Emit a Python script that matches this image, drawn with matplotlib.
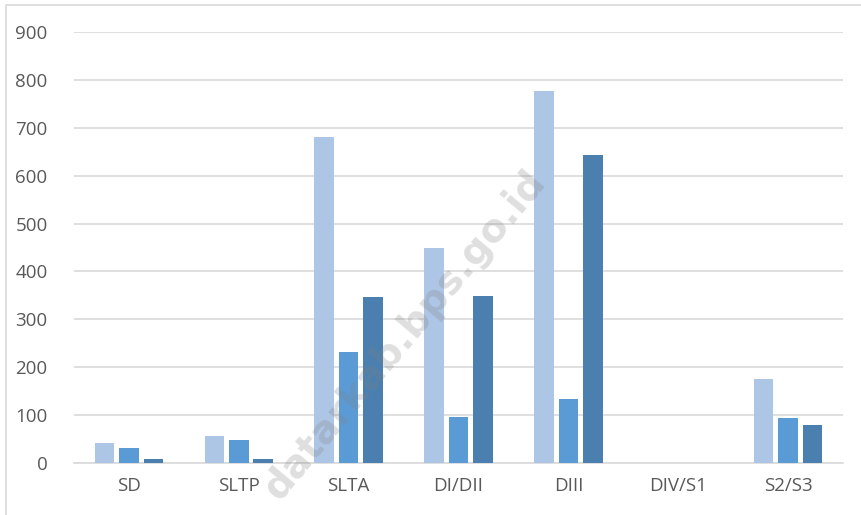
import matplotlib
matplotlib.use('Agg')
import matplotlib.pyplot as plt
import numpy as np
from matplotlib.patches import Rectangle

categories = ['SD', 'SLTP', 'SLTA', 'DI/DII', 'DIII', 'DIV/S1', 'S2/S3']
series_a = [41, 57, 680, 448, 777, 0, 175]
series_b = [31, 48, 231, 97, 134, 0, 95]
series_c = [9, 8, 347, 349, 643, 0, 79]
yticks = [0, 100, 200, 300, 400, 500, 600, 700, 800, 900]

colors = ['#aec6e6', '#5b9bd5', '#4a7fb0']

plt.rcParams['font.family'] = ['Open Sans', 'DejaVu Sans']

fig = plt.figure(figsize=(8.61, 5.15), dpi=100)
ax = fig.add_axes([74/861, 1-463/515, (843-74)/861, (463-32)/515])

x = np.arange(len(categories))
w = 0.178
step = 0.222
for i, (vals, c) in enumerate(zip([series_a, series_b, series_c], colors)):
    ax.bar(x + (i-1)*step, vals, width=w, color=c, zorder=3)

ax.set_xlim(-0.5, len(categories)-0.5)
ax.set_ylim(0, 900)
ax.set_yticks(yticks)
ax.set_xticks(x)
ax.set_xticklabels(categories)
ax.yaxis.grid(True, color='#d9d9d9', linewidth=1.2, zorder=0)
for s in ['top', 'right', 'left']:
    ax.spines[s].set_visible(False)
ax.spines['bottom'].set_color('#d9d9d9')
ax.spines['bottom'].set_linewidth(1.2)
ax.tick_params(axis='both', length=0, labelsize=13.5, colors='#595959')
ax.tick_params(axis='y', pad=19)
ax.tick_params(axis='x', pad=10)

# watermark
fig.text(405/861, 1-335/515, 'datarkab.bps.go.id', rotation=50, fontsize=28,
         fontweight='bold', color='#808080', alpha=0.25, ha='center', va='center',
         family='DejaVu Sans', zorder=10)

# chart border
fig.patches.append(Rectangle((6/861, -0.05), 1.2, 1-5/515+0.05, transform=fig.transFigure,
                             fill=False, edgecolor='#d9d9d9', linewidth=1.2))

fig.savefig('out.png', dpi=100)
